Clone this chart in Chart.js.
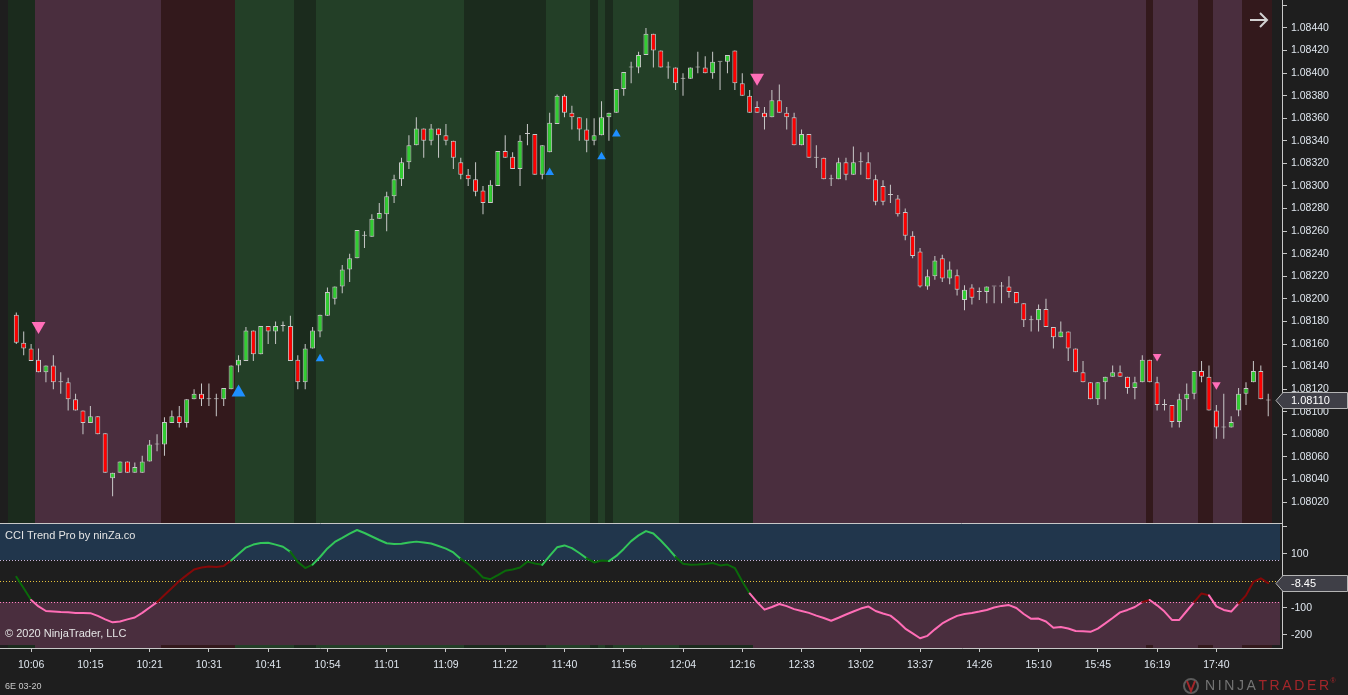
<!DOCTYPE html>
<html>
<head>
<meta charset="utf-8">
<title>6E 03-20 - CCI Trend Pro</title>
<script src="https://cdn.jsdelivr.net/npm/chart.js@4.4.1/dist/chart.umd.min.js"></script>
<style>
  html, body { margin: 0; padding: 0; background: #1e1e1e; overflow: hidden; }
  #wrap { position: relative; width: 1348px; height: 695px; }
  canvas { position: absolute; left: 0; }
  #price { top: 0; }
  #cci { top: 523px; }
</style>
</head>
<body>
<div id="wrap">
  <canvas id="price" width="1348" height="523"></canvas>
  <canvas id="cci" width="1348" height="172"></canvas>
</div>
<script>
// ---- data ----
const opens = [
  1.08186,1.08161,1.08156,1.08146,1.08135,1.08141,1.08126,1.08126,1.08111,1.08101,
  1.08090,1.08096,1.08081,1.08041,1.08046,1.08056,1.08046,1.08046,1.08056,1.08071,
  1.08071,1.08090,1.08096,1.08090,1.08111,1.08116,1.08111,1.08111,1.08111,1.08120,
  1.08141,1.08145,1.08172,1.08151,1.08176,1.08171,1.08176,1.08176,1.08146,1.08126,
  1.08156,1.08171,1.08185,1.08200,1.08211,1.08226,1.08236,1.08256,1.08255,1.08271,
  1.08275,1.08291,1.08306,1.08321,1.08336,1.08351,1.08340,1.08351,1.08345,1.08340,
  1.08321,1.08310,1.08306,1.08296,1.08285,1.08300,1.08331,1.08326,1.08315,1.08346,
  1.08346,1.08310,1.08330,1.08355,1.08380,1.08365,1.08361,1.08350,1.08340,1.08345,
  1.08361,1.08365,1.08386,1.08405,1.08405,1.08416,1.08435,1.08420,1.08405,1.08405,
  1.08395,1.08395,1.08405,1.08405,1.08400,1.08410,1.08410,1.08420,1.08391,1.08380,
  1.08370,1.08365,1.08361,1.08376,1.08365,1.08361,1.08336,1.08346,1.08325,1.08325,
  1.08306,1.08306,1.08321,1.08310,1.08321,1.08321,1.08306,1.08300,1.08292,1.08289,
  1.08277,1.08256,1.08242,1.08211,1.08220,1.08236,1.08218,1.08221,1.08199,1.08210,
  1.08206,1.08206,1.08211,1.08211,1.08211,1.08206,1.08196,1.08181,1.08181,1.08191,
  1.08175,1.08166,1.08171,1.08156,1.08135,1.08126,1.08111,1.08126,1.08131,1.08135,
  1.08131,1.08121,1.08126,1.08146,1.08126,1.08106,1.08106,1.08091,1.08111,1.08116,
  1.08136,1.08131,1.08101,1.08086,1.08086,1.08101,1.08116,1.08126,1.08136,1.08110
];
const highs = [
  1.08188,1.08171,1.08160,1.08156,1.08141,1.08150,1.08135,1.08130,1.08116,1.08101,
  1.08105,1.08096,1.08081,1.08046,1.08056,1.08056,1.08055,1.08061,1.08075,1.08080,
  1.08095,1.08101,1.08105,1.08111,1.08120,1.08125,1.08125,1.08116,1.08121,1.08141,
  1.08150,1.08175,1.08172,1.08176,1.08176,1.08180,1.08180,1.08185,1.08150,1.08160,
  1.08175,1.08186,1.08210,1.08211,1.08230,1.08240,1.08261,1.08260,1.08275,1.08285,
  1.08295,1.08310,1.08325,1.08345,1.08361,1.08351,1.08355,1.08351,1.08355,1.08340,
  1.08325,1.08315,1.08321,1.08300,1.08305,1.08331,1.08345,1.08330,1.08345,1.08355,
  1.08346,1.08336,1.08365,1.08381,1.08381,1.08371,1.08361,1.08360,1.08360,1.08375,
  1.08365,1.08386,1.08401,1.08410,1.08419,1.08440,1.08435,1.08420,1.08410,1.08405,
  1.08400,1.08405,1.08419,1.08415,1.08419,1.08410,1.08416,1.08420,1.08400,1.08385,
  1.08375,1.08370,1.08385,1.08390,1.08370,1.08365,1.08350,1.08346,1.08336,1.08325,
  1.08310,1.08325,1.08325,1.08335,1.08330,1.08330,1.08310,1.08305,1.08301,1.08292,
  1.08280,1.08260,1.08245,1.08226,1.08238,1.08239,1.08233,1.08226,1.08212,1.08213,
  1.08210,1.08211,1.08211,1.08215,1.08220,1.08206,1.08196,1.08185,1.08195,1.08200,
  1.08175,1.08180,1.08171,1.08156,1.08145,1.08126,1.08126,1.08131,1.08141,1.08141,
  1.08131,1.08131,1.08150,1.08146,1.08131,1.08111,1.08106,1.08116,1.08125,1.08136,
  1.08145,1.08141,1.08106,1.08116,1.08096,1.08121,1.08126,1.08145,1.08141,1.08116
];
const lows = [
  1.08160,1.08150,1.08145,1.08135,1.08126,1.08120,1.08116,1.08101,1.08101,1.08080,
  1.08090,1.08080,1.08046,1.08025,1.08046,1.08046,1.08046,1.08046,1.08056,1.08065,
  1.08061,1.08090,1.08086,1.08086,1.08111,1.08105,1.08105,1.08096,1.08105,1.08120,
  1.08135,1.08145,1.08145,1.08151,1.08160,1.08160,1.08171,1.08145,1.08120,1.08120,
  1.08156,1.08166,1.08185,1.08195,1.08205,1.08215,1.08236,1.08245,1.08255,1.08271,
  1.08260,1.08285,1.08300,1.08315,1.08336,1.08325,1.08336,1.08325,1.08336,1.08315,
  1.08306,1.08300,1.08291,1.08275,1.08285,1.08300,1.08325,1.08315,1.08300,1.08336,
  1.08310,1.08306,1.08330,1.08355,1.08361,1.08350,1.08340,1.08330,1.08336,1.08345,
  1.08340,1.08365,1.08380,1.08391,1.08400,1.08416,1.08405,1.08405,1.08395,1.08385,
  1.08380,1.08395,1.08400,1.08400,1.08395,1.08385,1.08400,1.08385,1.08380,1.08365,
  1.08365,1.08350,1.08361,1.08365,1.08350,1.08336,1.08336,1.08325,1.08316,1.08306,
  1.08300,1.08306,1.08305,1.08310,1.08310,1.08306,1.08283,1.08283,1.08285,1.08273,
  1.08252,1.08236,1.08210,1.08208,1.08217,1.08215,1.08213,1.08203,1.08190,1.08195,
  1.08199,1.08196,1.08196,1.08196,1.08201,1.08196,1.08175,1.08171,1.08171,1.08175,
  1.08156,1.08166,1.08145,1.08135,1.08126,1.08111,1.08106,1.08111,1.08131,1.08131,
  1.08116,1.08111,1.08126,1.08126,1.08101,1.08101,1.08086,1.08086,1.08101,1.08111,
  1.08126,1.08101,1.08076,1.08076,1.08086,1.08096,1.08106,1.08126,1.08111,1.08096
];
const closes = [
  1.08161,1.08156,1.08145,1.08135,1.08141,1.08126,1.08126,1.08111,1.08101,1.08090,
  1.08096,1.08080,1.08046,1.08046,1.08056,1.08046,1.08051,1.08056,1.08071,1.08071,
  1.08091,1.08096,1.08090,1.08111,1.08116,1.08111,1.08111,1.08111,1.08121,1.08141,
  1.08146,1.08172,1.08151,1.08176,1.08171,1.08176,1.08176,1.08145,1.08126,1.08156,
  1.08172,1.08186,1.08206,1.08211,1.08226,1.08236,1.08261,1.08256,1.08271,1.08276,
  1.08291,1.08306,1.08321,1.08336,1.08351,1.08340,1.08351,1.08345,1.08340,1.08325,
  1.08310,1.08306,1.08295,1.08285,1.08301,1.08331,1.08325,1.08315,1.08340,1.08346,
  1.08310,1.08336,1.08356,1.08380,1.08365,1.08361,1.08350,1.08340,1.08345,1.08361,
  1.08365,1.08386,1.08401,1.08405,1.08416,1.08435,1.08420,1.08405,1.08405,1.08391,
  1.08395,1.08405,1.08405,1.08400,1.08410,1.08410,1.08416,1.08391,1.08380,1.08365,
  1.08365,1.08361,1.08376,1.08365,1.08361,1.08336,1.08346,1.08325,1.08325,1.08306,
  1.08306,1.08321,1.08310,1.08321,1.08321,1.08306,1.08286,1.08286,1.08292,1.08275,
  1.08256,1.08238,1.08211,1.08220,1.08234,1.08218,1.08226,1.08208,1.08208,1.08201,
  1.08206,1.08211,1.08211,1.08211,1.08206,1.08196,1.08181,1.08181,1.08191,1.08175,
  1.08166,1.08171,1.08156,1.08135,1.08126,1.08111,1.08126,1.08131,1.08135,1.08131,
  1.08121,1.08126,1.08146,1.08126,1.08106,1.08106,1.08091,1.08111,1.08116,1.08136,
  1.08131,1.08101,1.08086,1.08086,1.08091,1.08116,1.08121,1.08136,1.08111,1.08110
];

// CCI Trend Pro values, one per bar
const cci = [
  15,-28,-71,-95,-112,-114,-116,-117,-119,-119,
  -120,-130,-143,-154,-151,-143,-136,-119,-99,-79,
  -53,-27,-1,21,42,49,53,51,55,75,
  99,123,134,140,141,134,126,107,70,47,
  60,88,120,144,159,175,188,177,164,151,
  139,136,137,142,145,142,138,129,119,105,
  81,62,40,12,6,21,37,42,49,71,
  64,59,92,124,131,121,103,83,68,75,
  73,92,118,147,168,184,175,149,120,88,
  63,59,60,62,66,57,60,47,-3,-47,
  -79,-107,-97,-86,-94,-105,-112,-119,-129,-138,
  -148,-137,-125,-114,-103,-95,-112,-121,-129,-151,
  -177,-195,-213,-204,-180,-158,-143,-130,-123,-119,
  -114,-108,-99,-93,-90,-101,-123,-141,-140,-151,
  -174,-171,-177,-186,-187,-189,-177,-158,-138,-117,
  -108,-97,-79,-71,-91,-114,-145,-145,-112,-79,
  -47,-54,-95,-108,-114,-84,-54,-4,9,-8.45
];

// trend state per bar as runs: U strong up, u weak up, D strong down, d weak down
const trendRuns = [
  ['u',3],['D',17],['d',10],['U',8],['u',3],['U',20],['u',11],['U',6],['u',1],['U',1],
  ['u',1],['U',9],['u',10],['D',53],['d',1],['D',6],['d',2],['D',4],['d',4]
];

// signal arrows
const sellBigBar = [3, 100];
const sellBigPrice = [1.08176, 1.08396];
const sellSmallBar = [154, 162];
const sellSmallPrice = [1.08149, 1.08124];
const buyBigBar = [30];
const buyBigPrice = [1.08117];
const buySmallBar = [41, 72, 79, 81];
const buySmallPrice = [1.08147, 1.08312, 1.08326, 1.08346];

const timeTickBar = [2,10,18,26,34,42,50,58,66,74,82,90,98,106,114,122,130,138,146,154,162];
const timeLabels = ['10:06','10:15','10:21','10:31','10:41','10:54','11:01','11:09','11:22','11:40',
  '11:56','12:04','12:16','12:33','13:02','13:37','14:26','15:10','15:45','16:19','17:40'];
const priceTicks = [1.0802,1.0804,1.0806,1.0808,1.0810,1.0812,1.0814,1.0816,1.0818,1.0820,1.0822,
  1.0824,1.0826,1.0828,1.0830,1.0832,1.0834,1.0836,1.0838,1.0840,1.0842,1.0844,1.0846];
const cciTicks = [200, 100, 0, -100, -200];
const cciLevels = [78, 0, -78];

// ---- look ----
const FONT = '"Liberation Sans", Arial, sans-serif';
const AXIS_TXT = '#dfe6ee';
const LINE = '#c8c8c8';
const trendFill = { U: '#233f27', u: '#1b2b1d', D: '#4a2e3e', d: '#33191c' };

Chart.defaults.font.family = FONT;

const trend = [];
trendRuns.forEach(([s, n]) => { for (let k = 0; k < n; k++) trend.push(s); });

const bars = closes.map((_, i) => i);
const bodyColors = bars.map(i => closes[i] > opens[i] ? '#32cd32' : closes[i] < opens[i] ? '#ff0000' : LINE);

function paintTrend(chart, top, bottom) {
  const ctx = chart.ctx, xs = chart.scales.x;
  trend.forEach((s, i) => {
    // first slot reaches back a little further, as in the platform
    const a = Math.round(xs.getPixelForValue(i === 0 ? -1.1 : i - 0.5));
    const b = Math.round(xs.getPixelForValue(i + 0.5));
    ctx.fillStyle = trendFill[s];
    ctx.fillRect(a, top, b - a, bottom - top);
  });
}

function drawTag(ctx, right, y, text) {
  ctx.save();
  ctx.beginPath();
  ctx.moveTo(right - 6, y);
  ctx.lineTo(right + 1, y - 8);
  ctx.lineTo(1347.5, y - 8);
  ctx.lineTo(1347.5, y + 8);
  ctx.lineTo(right + 1, y + 8);
  ctx.closePath();
  ctx.fillStyle = '#3f3f47';
  ctx.fill();
  ctx.strokeStyle = '#b4b4b4';
  ctx.lineWidth = 1;
  ctx.stroke();
  ctx.fillStyle = '#ffffff';
  ctx.font = '11px ' + FONT;
  ctx.textBaseline = 'middle';
  ctx.fillText(text, right + 9, y + 0.5);
  ctx.restore();
}

const xRange = { type: 'linear', min: -2.2, max: 170.86, offset: false };

function fitY(s) { s.width = 66; s.paddingTop = 0; s.paddingBottom = 0; }

// ---- price panel ----
const pricePlugin = {
  id: 'pricePanel',
  beforeDraw(chart) {
    const a = chart.chartArea;
    paintTrend(chart, a.top, a.bottom);
  },
  afterDraw(chart) {
    const ctx = chart.ctx, a = chart.chartArea;
    drawTag(ctx, a.right, Math.round(chart.scales.y.getPixelForValue(closes[closes.length - 1])) + 0.5,
      closes[closes.length - 1].toFixed(5));
    // navigation arrow
    ctx.save();
    ctx.strokeStyle = '#d2d2d2';
    ctx.lineWidth = 2;
    ctx.beginPath();
    ctx.moveTo(1250, 20); ctx.lineTo(1267, 20);
    ctx.moveTo(1260, 13); ctx.lineTo(1267, 20); ctx.lineTo(1260, 27);
    ctx.stroke();
    ctx.restore();
  }
};

function marker(bar, price, color, r, rot) {
  return {
    type: 'scatter',
    data: bar.map((b, k) => ({ x: b, y: price[k] })),
    pointStyle: 'triangle',
    pointRadius: r,
    pointRotation: rot,
    backgroundColor: color,
    borderWidth: 0,
    order: -1
  };
}

new Chart(document.getElementById('price'), {
  type: 'bar',
  data: {
    datasets: [
      {
        data: bars.map(i => ({ x: i, y: [opens[i], closes[i]] })),
        backgroundColor: bodyColors,
        borderColor: LINE,
        borderWidth: 1,
        borderSkipped: false,
        barThickness: 5,
        minBarLength: 1,
        inflateAmount: 0,
        grouped: false,
        order: 0
      },
      {
        data: bars.map(i => ({ x: i, y: [lows[i], highs[i]] })),
        backgroundColor: LINE,
        borderWidth: 0,
        barThickness: 1,
        inflateAmount: 0,
        grouped: false,
        order: 1
      },
      marker(sellBigBar, sellBigPrice, '#ff6eb8', 8, 180),
      marker(sellSmallBar, sellSmallPrice, '#ff6eb8', 5, 180),
      marker(buyBigBar, buyBigPrice, '#1e8fff', 8, 0),
      marker(buySmallBar, buySmallPrice, '#1e8fff', 5, 0)
    ]
  },
  options: {
    responsive: false,
    animation: false,
    events: [],
    layout: { padding: 0, autoPadding: false },
    plugins: { legend: { display: false }, tooltip: { enabled: false } },
    scales: {
      x: Object.assign({}, xRange, { display: false }),
      y: {
        position: 'right',
        min: 1.080014,
        max: 1.084648,
        afterFit: fitY,
        afterBuildTicks: s => { s.ticks = priceTicks.map(v => ({ value: v })); },
        ticks: {
          color: AXIS_TXT,
          font: { size: 10.5 },
          padding: 4,
          callback: (v, i) => i === priceTicks.length - 1 ? '' : v.toFixed(5)
        },
        grid: { drawOnChartArea: false, color: LINE, tickLength: 5 },
        border: { color: LINE }
      }
    }
  },
  plugins: [pricePlugin]
});

// ---- CCI panel ----
function cciColor(i) {
  const v = cci[i];
  if (v > cciLevels[0]) return '#33c65a';
  if (v < cciLevels[2]) return '#ff6db6';
  return (trend[i] === 'U' || trend[i] === 'u') ? '#0a6a0a' : '#850909';
}

const cciPlugin = {
  id: 'cciPanel',
  beforeDraw(chart) {
    const ctx = chart.ctx, a = chart.chartArea, ys = chart.scales.y;
    paintTrend(chart, a.top, a.bottom);
    const up = Math.round(ys.getPixelForValue(cciLevels[0]));
    const dn = Math.round(ys.getPixelForValue(cciLevels[2]));
    ctx.fillStyle = '#21364c';
    ctx.fillRect(a.left, a.top, a.right - a.left - 2, up - a.top);
    ctx.fillStyle = '#1e1e1e';
    ctx.fillRect(a.left, up, a.right - a.left, dn - up);
    ctx.fillStyle = '#4a2e3e';
    ctx.fillRect(a.left, dn, a.right - a.left - 2, a.bottom - 3 - dn);
    const lineColors = ['#c9b6dc', '#e6c23c', '#ff80c0'];
    ctx.save();
    ctx.lineWidth = 1;
    ctx.setLineDash([1, 2]);
    cciLevels.forEach((lv, k) => {
      const y = Math.round(ys.getPixelForValue(lv)) + 0.5;
      ctx.strokeStyle = lineColors[k];
      ctx.beginPath();
      ctx.moveTo(a.left, y);
      ctx.lineTo(a.right - 2, y);
      ctx.stroke();
    });
    ctx.restore();
  },
  afterDraw(chart) {
    const ctx = chart.ctx, a = chart.chartArea, ys = chart.scales.y;
    ctx.save();
    // panel separator
    ctx.strokeStyle = LINE;
    ctx.lineWidth = 1;
    ctx.beginPath();
    ctx.moveTo(0, a.top + 0.5);
    ctx.lineTo(a.right, a.top + 0.5);
    ctx.stroke();

    ctx.fillStyle = '#e4e4e4';
    ctx.font = '11px ' + FONT;
    ctx.textBaseline = 'middle';
    ctx.fillText('CCI Trend Pro by ninZa.co', 5, 12.5);
    ctx.fillText('\u00a9 2020 NinjaTrader, LLC', 5, 111);

    ctx.fillStyle = '#c8c8c8';
    ctx.font = '9px ' + FONT;
    ctx.fillText('6E 03-20', 5, 163.5);

    // NinjaTrader mark
    ctx.strokeStyle = '#5c5c5c';
    ctx.lineWidth = 2;
    ctx.beginPath();
    ctx.arc(1191, 163, 7, 0, Math.PI * 2);
    ctx.stroke();
    ctx.strokeStyle = '#a3262a';
    ctx.beginPath();
    ctx.moveTo(1187, 158); ctx.lineTo(1191, 168); ctx.lineTo(1195, 158);
    ctx.stroke();
    ctx.font = '14px ' + FONT;
    ctx.letterSpacing = '2.6px';
    ctx.fillStyle = '#747474';
    ctx.fillText('NINJA', 1205, 163.5);
    const w = ctx.measureText('NINJA').width;
    ctx.fillStyle = '#a3262a';
    ctx.fillText('TRADER', 1205 + w, 163.5);
    const w2 = ctx.measureText('TRADER').width;
    ctx.letterSpacing = '0px';
    ctx.font = '7px ' + FONT;
    ctx.fillText('\u00ae', 1205 + w + w2 - 1, 158);
    ctx.restore();

    const last = cci[cci.length - 1];
    drawTag(ctx, a.right, Math.round(ys.getPixelForValue(last)) + 0.5, last.toFixed(2));
  }
};

new Chart(document.getElementById('cci'), {
  type: 'line',
  data: {
    datasets: [{
      data: cci.map((v, i) => ({ x: i, y: v })),
      borderWidth: 2,
      pointRadius: 0,
      tension: 0,
      borderJoinStyle: 'round',
      borderCapStyle: 'round',
      segment: { borderColor: c => cciColor(c.p1DataIndex) }
    }]
  },
  options: {
    responsive: false,
    animation: false,
    events: [],
    layout: { padding: 0, autoPadding: false },
    plugins: { legend: { display: false }, tooltip: { enabled: false } },
    scales: {
      x: Object.assign({}, xRange, {
        afterFit: s => { s.height = 47; s.paddingLeft = 0; s.paddingRight = 0; },
        afterBuildTicks: s => { s.ticks = timeTickBar.map(v => ({ value: v })); },
        ticks: {
          color: AXIS_TXT,
          font: { size: 10.5 },
          padding: 7,
          maxRotation: 0,
          autoSkip: false,
          callback: (v, i) => timeLabels[i]
        },
        grid: { drawOnChartArea: false, color: LINE, tickLength: 4 },
        border: { color: LINE }
      }),
      y: {
        position: 'right',
        min: -249,
        max: 214,
        afterFit: fitY,
        afterBuildTicks: s => { s.ticks = cciTicks.map(v => ({ value: v })); },
        ticks: {
          color: AXIS_TXT,
          font: { size: 10.5 },
          padding: 4,
          callback: (v, i) => i === 0 ? '' : String(v)
        },
        grid: { drawOnChartArea: false, color: LINE, tickLength: 5 },
        border: { color: LINE }
      }
    }
  },
  plugins: [cciPlugin]
});
</script>
</body>
</html>
